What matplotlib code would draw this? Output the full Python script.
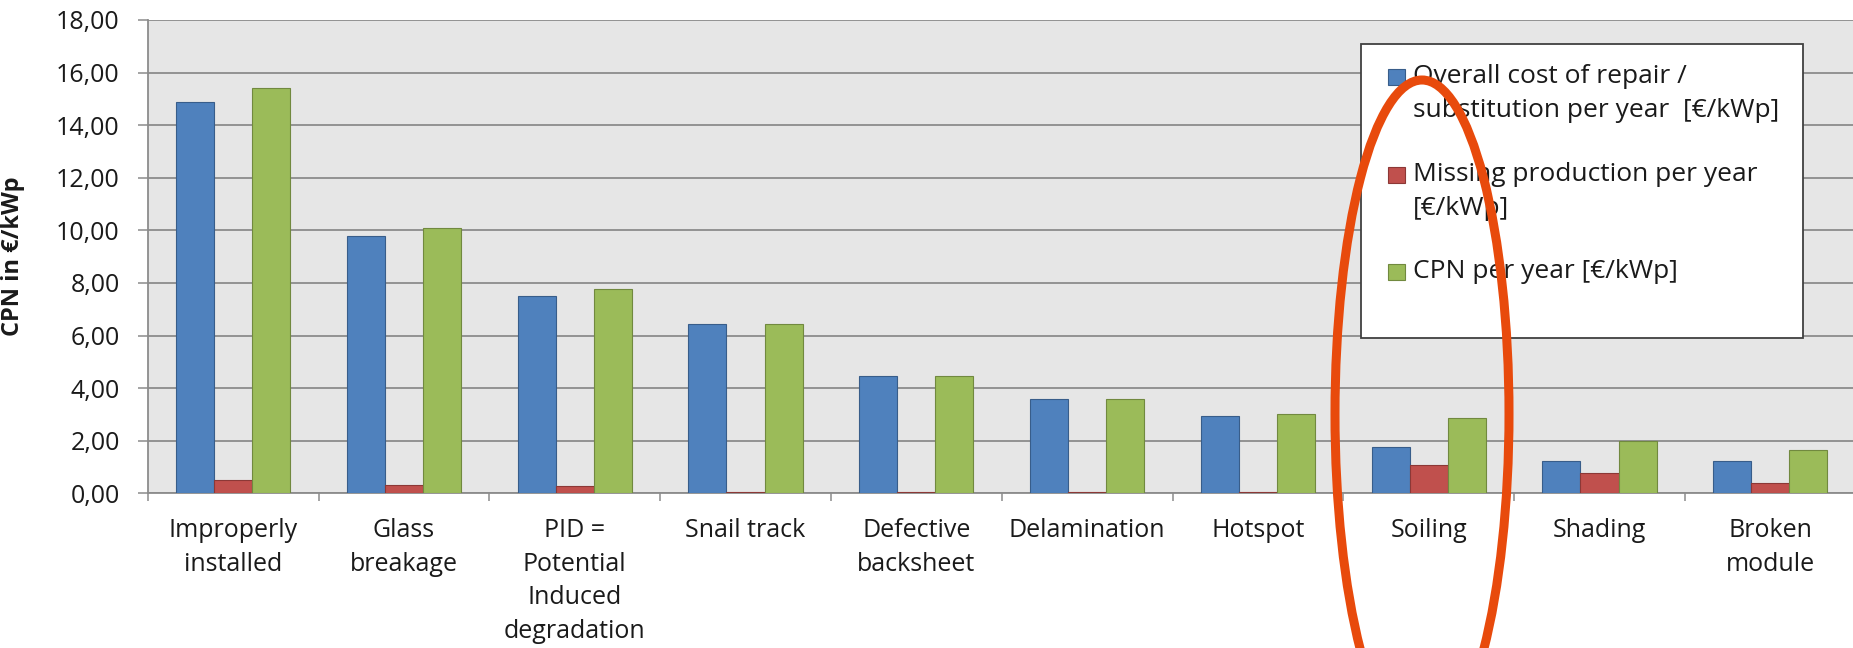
import numpy as np
import matplotlib
matplotlib.use("Agg")
import matplotlib.pyplot as plt
from matplotlib.patches import Rectangle, Ellipse
from matplotlib.ticker import FixedLocator, FuncFormatter

plt.rcParams['font.family'] = ['Open Sans', 'DejaVu Sans']

categories = ["Improperly\ninstalled", "Glass\nbreakage", "PID =\nPotential\nInduced\ndegradation",
              "Snail track", "Defective\nbacksheet", "Delamination", "Hotspot", "Soiling",
              "Shading", "Broken\nmodule"]
repair_cost = [14.90, 9.78, 7.50, 6.45, 4.45, 3.57, 2.95, 1.75, 1.24, 1.24]
missing_prod = [0.50, 0.30, 0.26, 0.05, 0.05, 0.05, 0.05, 1.08, 0.77, 0.40]
cpn = [15.40, 10.10, 7.76, 6.45, 4.45, 3.57, 3.00, 2.88, 2.00, 1.65]

series_labels = ["Overall cost of repair /\nsubstitution per year  [\u20ac/kWp]",
                 "Missing production per year\n[\u20ac/kWp]",
                 "CPN per year [\u20ac/kWp]"]
face_colors = ["#4f81bd", "#c0504d", "#9bbb59"]
edge_colors = ["#385d8a", "#8c3836", "#71893f"]

W, H = 1853, 648
fig = plt.figure(figsize=(W / 100, H / 100), dpi=100)
ax_left, ax_right = 147.7, 1855.7
ax = fig.add_axes([ax_left / W, 1 - 493.3 / H, (ax_right - ax_left) / W, (493.3 - 20) / H])
ax.set_facecolor("#e6e6e6")

x = np.arange(len(categories))
bw = 0.223
for k, vals in enumerate([repair_cost, missing_prod, cpn]):
    ax.bar(x + (k - 1) * bw, vals, bw, color=face_colors[k], edgecolor=edge_colors[k],
           linewidth=0.8, zorder=3)

ax.set_xlim(-0.5, len(categories) - 0.5)
ax.set_ylim(0, 18)
ax.set_yticks(np.arange(0, 18.1, 2))
ax.yaxis.set_major_formatter(FuncFormatter(lambda v, p: f"{v:.2f}".replace(".", ",")))
ax.grid(axis="y", color="#8c8c8c", linewidth=1.3, zorder=1)
ax.set_axisbelow(True)

ax.xaxis.set_major_locator(FixedLocator(x - 0.5))
ax.xaxis.set_major_formatter(FuncFormatter(lambda v, p: ""))
ax.xaxis.set_minor_locator(FixedLocator(x))
ax.set_xticklabels(categories, minor=True)
ax.tick_params(axis="x", which="major", length=6, color="#8c8c8c", width=1.1)
ax.tick_params(axis="x", which="minor", length=0, pad=18, labelsize=18, labelcolor="#1a1a1a")
ax.tick_params(axis="y", length=7.2, color="#8c8c8c", width=1.1, pad=13,
               labelsize=18, labelcolor="#1a1a1a")
for lab in ax.get_xticklabels(minor=True):
    lab.set_linespacing(1.45)

for s in ["top", "right"]:
    ax.spines[s].set_visible(False)
for s in ["left", "bottom"]:
    ax.spines[s].set_color("#8c8c8c")
    ax.spines[s].set_linewidth(1.3)

ax.set_ylabel("CPN in \u20ac/kWp", fontsize=17, fontweight="bold", color="#1a1a1a")
ax.yaxis.set_label_coords((25 - ax_left) / (ax_right - ax_left), 0.5)


def fx(px):
    return px / W


def fy(py):
    return 1 - py / H


# legend box, drawn by hand so the markers sit on the first line of each entry
fig.add_artist(Rectangle((fx(1361), fy(338)), fx(1803 - 1361), (338 - 44) / H,
                         transform=fig.transFigure, facecolor="white",
                         edgecolor="#404040", linewidth=1.3, zorder=5))
marker_tops = [69, 167, 264]
for k in range(3):
    fig.add_artist(Rectangle((fx(1388), fy(marker_tops[k] + 16)), fx(17), 16 / H,
                             transform=fig.transFigure, facecolor=face_colors[k],
                             edgecolor=edge_colors[k], linewidth=0.8, zorder=6))
    fig.text(fx(1413), fy(marker_tops[k] - 5), series_labels[k], fontsize=19,
             va="top", ha="left", color="#1a1a1a", linespacing=1.48, zorder=6)

# highlight around Soiling
fig.add_artist(Ellipse((fx(1422), fy(414)), fx(174), 668 / H, transform=fig.transFigure,
                       fill=False, edgecolor="#e84a0c", linewidth=6.5, zorder=10,
                       clip_on=False))

fig.savefig("out.png", dpi=100, facecolor="white")
